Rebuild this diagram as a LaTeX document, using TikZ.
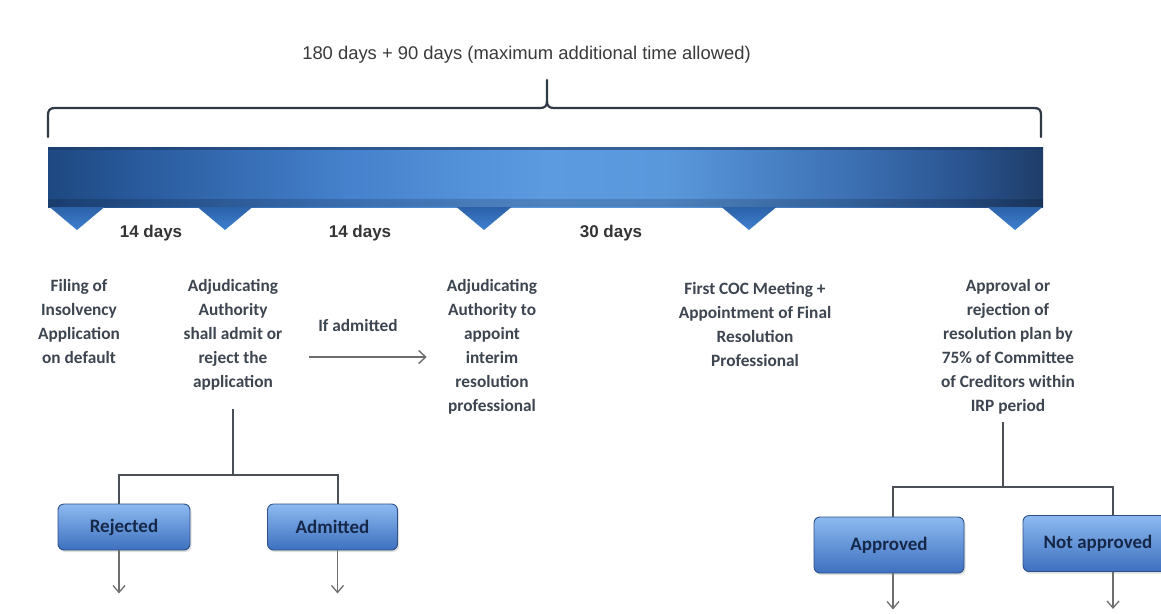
\documentclass[tikz,border=0pt]{standalone}
\usepackage{fontspec}
\setmainfont{Carlito}
\newfontfamily\arialfont{Liberation Sans}
\usetikzlibrary{arrows.meta,shadows}

\definecolor{bodytext}{HTML}{3D4550}
\definecolor{boxtext}{HTML}{15284A}
\definecolor{titletext}{HTML}{3A3A3A}
\definecolor{bracecol}{HTML}{2F3A46}
\definecolor{stemcol}{HTML}{4A4E55}
\definecolor{arrowcol}{HTML}{6E6E6E}
\definecolor{barA}{HTML}{1E4880}
\definecolor{barB}{HTML}{2A5C9F}
\definecolor{barC}{HTML}{4581CC}
\definecolor{barD}{HTML}{5C9BE0}
\definecolor{barE}{HTML}{5A98DC}
\definecolor{barF}{HTML}{3D72B5}
\definecolor{barG}{HTML}{2A5490}
\definecolor{barH}{HTML}{1F3D69}
\definecolor{bartop}{HTML}{1B3A66}
\definecolor{markTop}{HTML}{2C62A8}
\definecolor{markBot}{HTML}{3F80D0}
\definecolor{boxTop}{HTML}{8DBAF0}
\definecolor{boxBot}{HTML}{3D70BF}
\definecolor{boxEdge}{HTML}{2D5087}

% time bar: dark ends, light middle (path maps onto 25bp..75bp)
\pgfdeclarehorizontalshading{barshading}{100bp}{%
  color(0bp)=(barA); color(25bp)=(barA); color(30bp)=(barB);
  color(40bp)=(barC); color(50bp)=(barD); color(56bp)=(barE);
  color(65bp)=(barF); color(71bp)=(barG); color(75bp)=(barH);
  color(100bp)=(barH)}

\begin{document}
\begin{tikzpicture}[x=1pt,y=-1pt,
  titlestyle/.style={font=\arialfont\fontsize{18.4}{22}\selectfont, text=titletext, inner sep=0pt},
  daystyle/.style={font=\arialfont\bfseries\fontsize{17}{20}\selectfont, text=titletext!90!black, inner sep=0pt},
  desc/.style={anchor=north, align=center, inner sep=0pt,
    font=\bfseries\fontsize{17.3}{24}\selectfont, text=bodytext},
  box/.style={rounded corners=6pt, draw=boxEdge, line width=0.9pt,
    top color=boxTop, bottom color=boxBot, inner sep=0pt,
    font=\bfseries\fontsize{19}{22}\selectfont, text=boxtext,
    drop shadow={shadow xshift=1.5pt, shadow yshift=-2pt, opacity=.25}},
  bracestyle/.style={draw=bracecol, line width=2.2pt, line cap=round, line join=round},
  stem/.style={draw=stemcol, line width=2pt},
  outarrow/.style={draw=arrowcol, line width=1.3pt, -{Straight Barb[length=7pt,width=12pt,line width=1.3pt]}},
  thinarrow/.style={draw=arrowcol, line width=1.5pt, -{Straight Barb[length=7pt,width=13pt,line width=1.4pt]}}
]
\useasboundingbox (0,0) rectangle (1161,613);
\fill[white] (0,0) rectangle (1161,613);

% overall duration
\node[titlestyle] (title) at (526.5,54.5) {180 days + 90 days (maximum additional time allowed)};

% bracket spanning the whole process
\draw[bracestyle] (48,137) -- (48,115) .. controls (48,110) and (50,108) .. (55,108)
  -- (540,108) .. controls (545,108) and (547,106) .. (547,101) -- (547,80);
\draw[bracestyle] (547,101) .. controls (547,106) and (549,108) .. (554,108)
  -- (1034,108) .. controls (1039,108) and (1041,110) .. (1041,115) -- (1041,137);

% time bar
\shade[shading=barshading] (48,147) rectangle (1043,207);
\fill[bartop, opacity=.6] (48,147) rectangle (1043,150);
\fill[black, opacity=.15] (48,199) rectangle (1043,207);

% milestone markers
\foreach \x in {77,225,484,749,1015} {
  \shade[top color=markTop, bottom color=markBot]
    (\x-27.5,207) -- (\x+27.5,207) -- (\x,230) -- cycle;
}

% intervals
\node[daystyle] (d1) at (151,233) {14 days};
\node[daystyle] (d2) at (360,233) {14 days};
\node[daystyle] (d3) at (611,233) {30 days};

% milestones
\node[desc] (filing) at (79,279) {Filing of\\Insolvency\\Application\\on default};
\node[desc] (adj) at (233,279) {Adjudicating\\Authority\\shall admit or\\reject the\\application};
\node[desc] (irp) at (492,279) {Adjudicating\\Authority to\\appoint\\interim\\resolution\\professional};
\node[desc] (coc) at (755,282) {First COC Meeting +\\Appointment of Final\\Resolution\\Professional};
\node[desc] (plan) at (1008,279) {Approval or\\rejection of\\resolution plan by\\75\% of Committee\\of Creditors within\\IRP period};

% admission step
\node[desc, anchor=center] (ifadm) at (358,325) {If admitted};
\coordinate (yA) at (0,357);
\draw[thinarrow, shorten <=26pt, shorten >=20pt] (adj.east |- yA) -- (irp.west |- yA);

% outcome boxes
\node[box, minimum width=132pt, minimum height=46pt] (rej) at (124,527) {Rejected};
\node[box, minimum width=130pt, minimum height=46pt] (adm) at (332.5,527) {Admitted};
\node[box, minimum width=150pt, minimum height=56pt] (appr) at (889,545) {Approved};
\node[box, minimum width=150pt, minimum height=56pt] (napp) at (1098,543.5) {Not approved};

% admission tree
\coordinate (yL) at (0,475);
\coordinate (rejT) at ([xshift=-5pt]rej.north);
\coordinate (admT) at ([xshift=5pt]adm.north);
\draw[stem, shorten <=19pt] (adj.south) -- (adj.south |- yL);
\draw[stem] (rejT) -- (rejT |- yL) -- (admT |- yL) -- (admT);
\coordinate (rejB) at ([xshift=-5pt]rej.south);
\coordinate (admB) at ([xshift=5pt]adm.south);
\coordinate (rejEnd) at ([yshift=-43pt]rejB);
\coordinate (admEnd) at ([yshift=-43pt]admB);
\draw[outarrow] (rejB) -- (rejEnd);
\draw[outarrow] (admB) -- (admEnd);

% approval tree
\coordinate (yR) at (0,487);
\coordinate (planS) at ([xshift=-5pt]plan.south);
\coordinate (apprT) at ([xshift=4pt]appr.north);
\coordinate (nappT) at ([xshift=15pt]napp.north);
\draw[stem, shorten <=8pt] (planS) -- (planS |- yR);
\draw[stem] (apprT) -- (apprT |- yR) -- (nappT |- yR) -- (nappT);
\coordinate (apprB) at ([xshift=4pt]appr.south);
\coordinate (nappB) at ([xshift=15pt]napp.south);
\coordinate (apprEnd) at ([yshift=-36pt]apprB);
\coordinate (nappEnd) at ([yshift=-37pt]nappB);
\draw[outarrow] (apprB) -- (apprEnd);
\draw[outarrow] (nappB) -- (nappEnd);
\end{tikzpicture}
\end{document}
